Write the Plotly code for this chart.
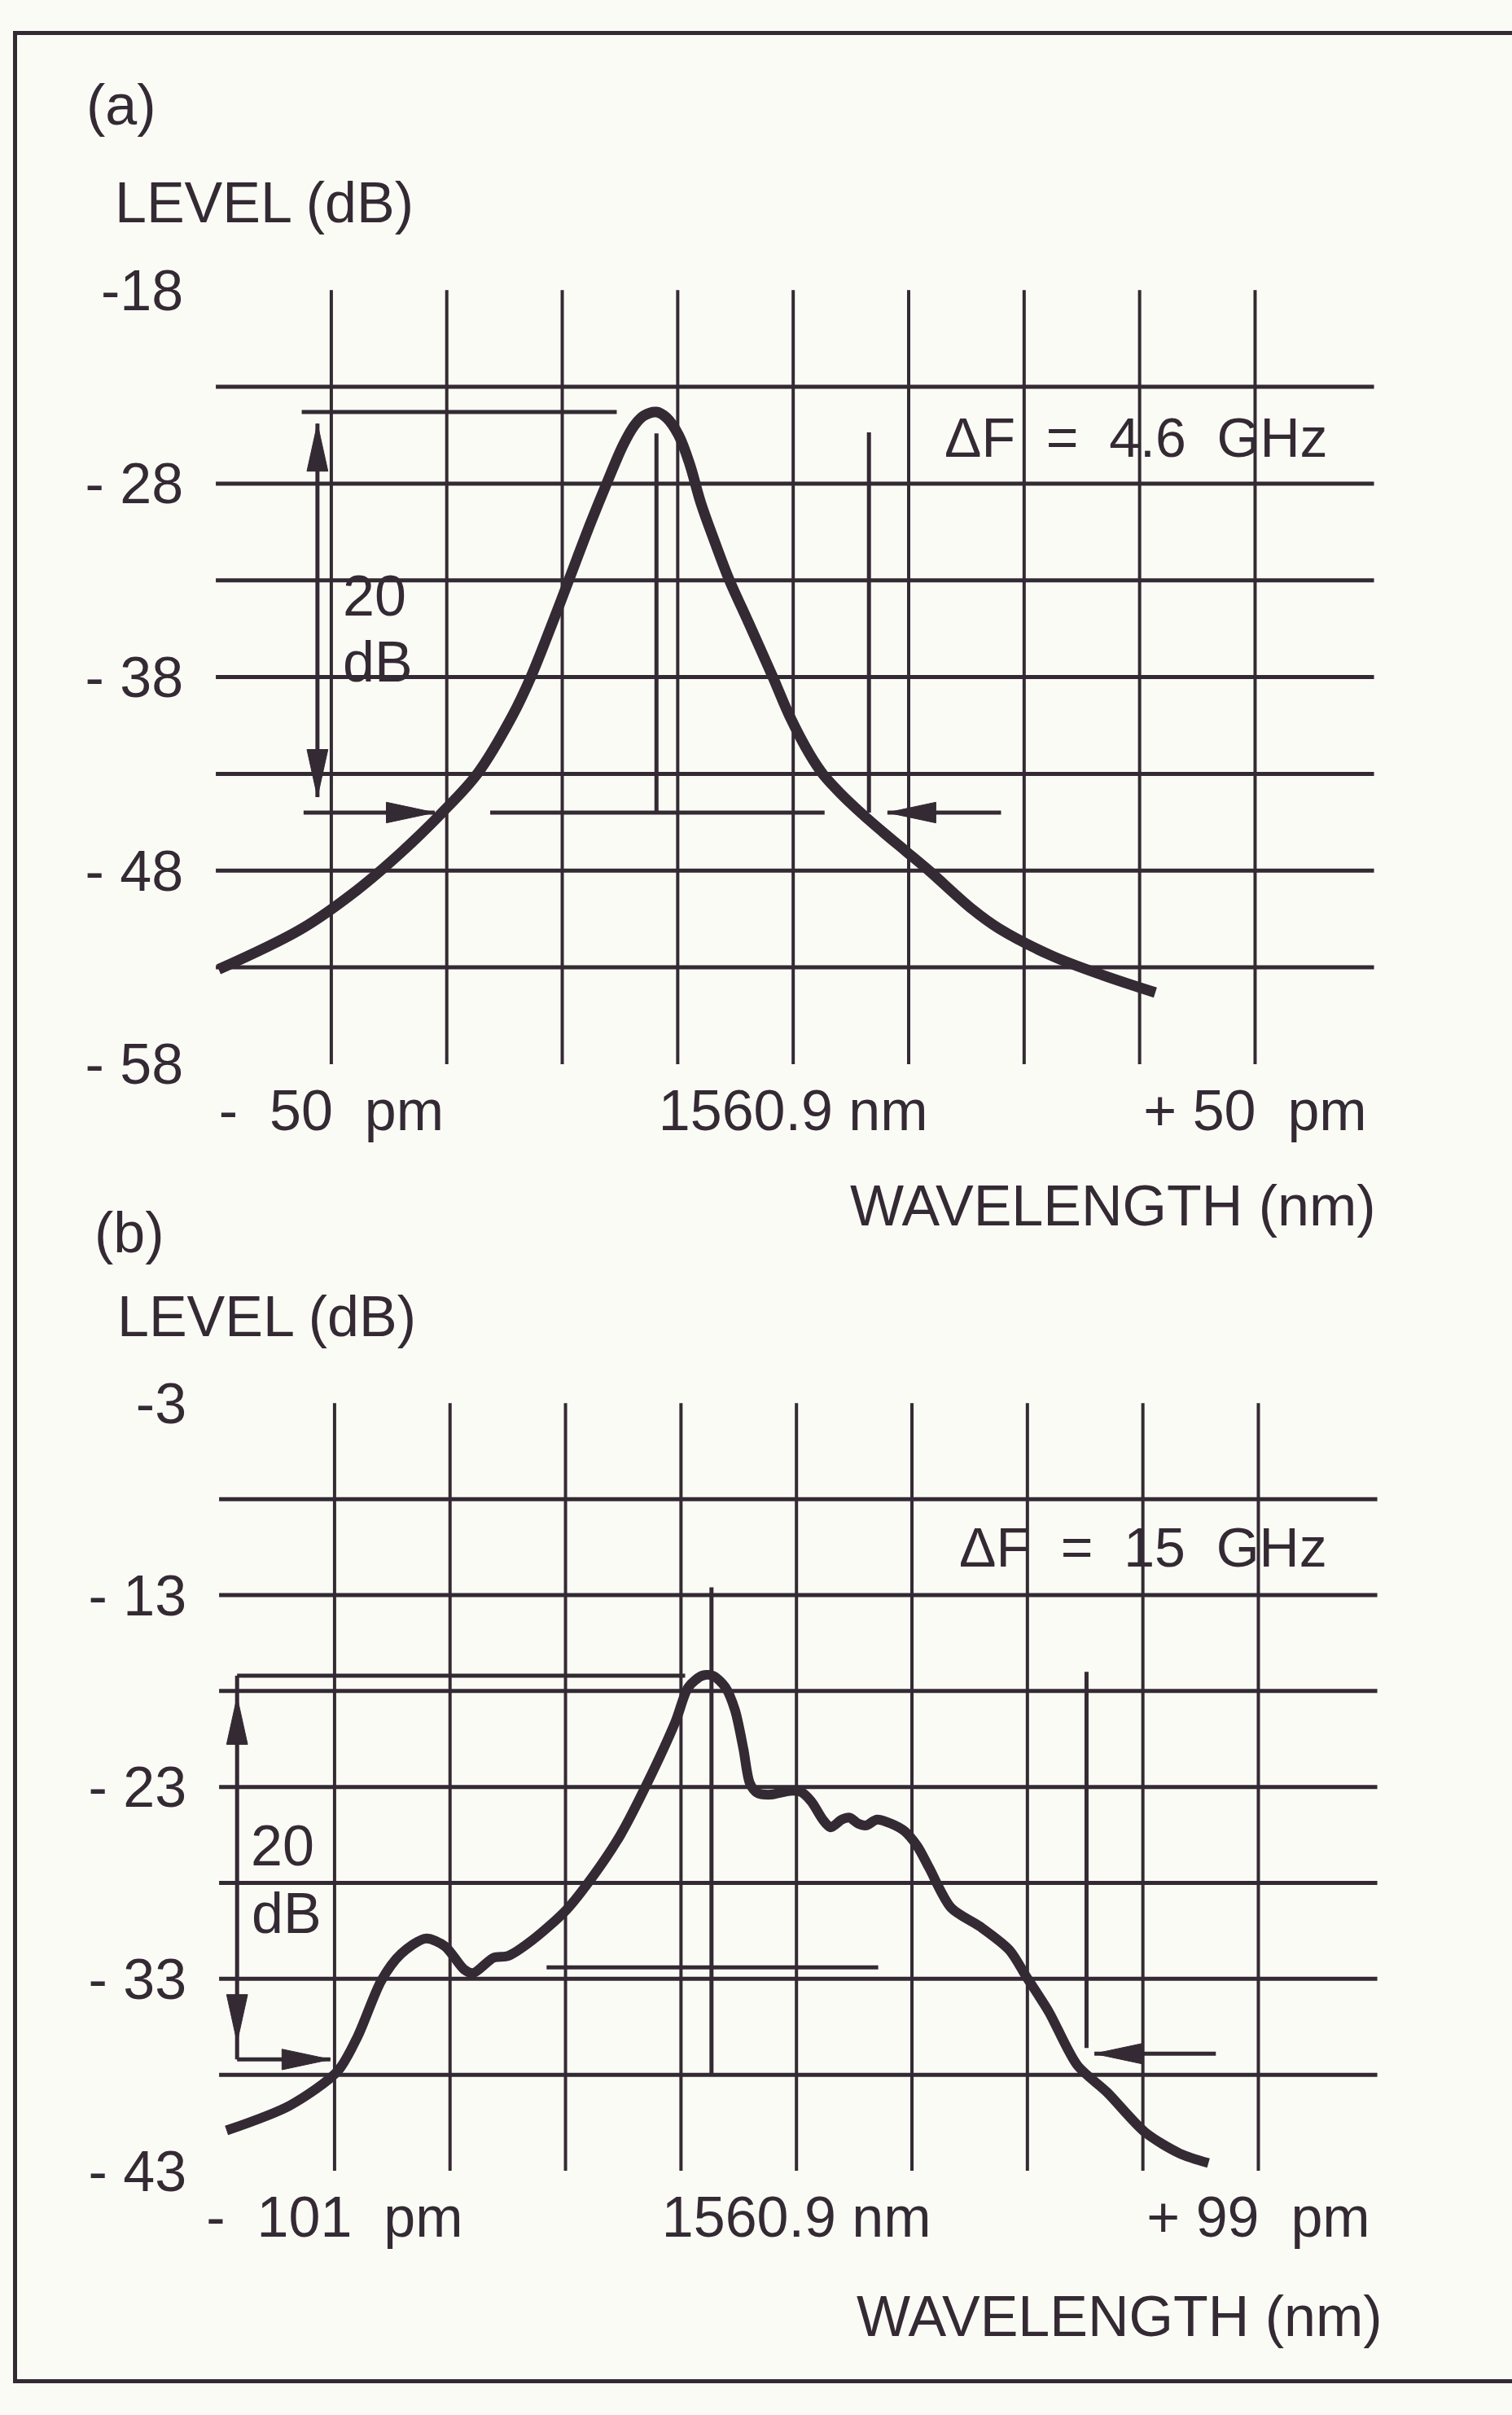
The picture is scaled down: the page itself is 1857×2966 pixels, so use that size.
import plotly.graph_objects as go

W, H = 1857, 2966
INK = "#342a33"
BG = "#fbfbf6"
FONT = "Liberation Sans, Arial, Helvetica, sans-serif"
FS = 70
NB = "\u00a0"

# ---------------- panel (a): 4.6 GHz linewidth ----------------
a_wl = [-62.2, -53.2, -47.2, -42.3, -38.0, -34.2, -30.4, -28.4, -25.9, -24.3, -21.9,
        -20.2, -18.4, -17.2, -16.2, -14.8,
        -13.7, -12.4, -11.2, -10.0, -8.5, -6.9, -5.0, -2.2, -0.4, 1.8, 3.2, 5.1, 7.3,
        9.7, 12.2, 14.7, 19.4, 22.3, 28.0, 33.5, 39.2]
a_lvl = [-53.1, -51.0, -49.0, -47.0, -45.0, -43.0, -40.0, -38.0, -35.0, -33.0, -30.0,
         -28.0, -26.0, -25.0, -24.5, -24.3,
         -24.6, -25.5, -27.0, -29.0, -31.0, -33.0, -35.0, -38.0, -40.0, -42.0, -43.0,
         -44.0, -45.0, -46.0, -47.0, -48.0, -50.0, -51.0, -52.4, -53.4, -54.3]
a_xrange = [-62.5, 62.5]
a_yrange = [-58, -18]
a_xgrid = [-50, -37.5, -25, -12.5, 0, 12.5, 25, 37.5, 50]
a_ygrid = [-23, -28, -33, -38, -43, -48, -53]
a_xticks = [-50, 0, 50]
a_xtext = ["-" + NB + " 50" + NB + " pm", "1560.9 nm", "+ 50" + NB + " pm"]
a_yticks = [-18, -28, -38, -48, -58]
a_ytext = ["-18", "- 28", "- 38", "- 48", "- 58"]
# 20 dB width construction
a_peak_level = -24.3
a_peak_line_x = [-53.2, -19.1]
a_ref_level = -45.0
a_dim_x = -51.5
a_dim_y = [-24.9, -44.2]
a_left_arrow_x = [-53.0, -38.8]
a_mid_line_x = [-32.8, 3.4]
a_center_x = -14.8
a_center_y = [-25.4, -45.0]
a_right_x = 8.2
a_right_y = [-25.35, -45.0]
a_right_arrow_x = [22.5, 10.2]
a_df_text = "\u0394F" + NB + " =" + NB + " 4.6" + NB + " GHz"
a_df_pos = (37.1, -25.6)
a_20_pos = (-45.3, -33.8)
a_db_pos = (-45.0, -37.2)

# ---------------- panel (b): 15 GHz linewidth ----------------
b_wl = [-124.4, -110.7, -100.3, -96.0, -90.9, -86.6, -81.3, -77.1, -73.0, -71.0, -66.6,
        -63.4, -58.3, -50.8, -44.6, -39.1, -33.3, -27.2, -24.4, -21.4, -19.1, -16.4,
        -14.3, -12.5, -11.1, -9.5, -6.7, -2.4, -0.1, 2.2, 4.7, 6.4, 8.8, 10.5, 12.3,
        14.1, 16.4, 19.4, 22.4, 25.2, 27.7, 32.5, 38.9, 45.1, 48.8, 53.6, 59.8, 66.2,
        74.5, 82.0, 88.2]
b_lvl = [-40.9, -39.6, -37.8, -36.0, -33.1, -31.7, -30.9, -31.3, -32.5, -32.7, -31.9,
         -31.8, -31.0, -29.4, -27.5, -25.5, -22.8, -19.6, -17.8, -17.2, -17.2, -17.8,
         -19.0, -21.0, -22.8, -23.3, -23.4, -23.2, -23.25, -23.75, -24.7, -25.1, -24.7,
         -24.6, -24.9, -25.0, -24.7, -24.9, -25.3, -26.1, -27.2, -29.3, -30.3, -31.5,
         -32.9, -34.7, -37.5, -38.9, -41.0, -42.1, -42.6]
b_xrange = [-126, 124]
b_yrange = [-43, -3]
b_xgrid = [-101, -76, -51, -26, -1, 24, 49, 74, 99]
b_ygrid = [-8, -13, -18, -23, -28, -33, -38]
b_xticks = [-101, -1, 99]
b_xtext = ["-" + NB + " 101" + NB + " pm", "1560.9 nm", "+ 99" + NB + " pm"]
b_yticks = [-3, -13, -23, -33, -43]
b_ytext = ["-3", "- 13", "- 23", "- 33", "- 43"]
b_peak_level = -17.2
b_peak_line_x = [-122.1, -25.1]
b_ref_level = -37.2
b_dim_x = -122.1
b_dim_tips = [-18.3, -36.3]
b_left_arrow_x = [-122.1, -101.9]
b_mid_level = -32.4
b_mid_line_x = [-55.1, 16.7]
b_center_x = -19.4
b_center_y = [-12.6, -38.0]
b_right_x = 61.8
b_right_y = [-17.0, -36.6]
b_right_level = -36.9
b_right_arrow_x = [89.8, 63.5]
b_df_text = "\u0394F" + NB + " =" + NB + " 15" + NB + " GHz"
b_df_pos = (74.0, -10.5)
b_20_pos = (-112.3, -26.05)
b_db_pos = (-111.3, -29.6)

# target pixel boxes of the two plotting areas (left, right, top, bottom)
A_BOX = (267.6, 1681.4, 354, 1306)
B_BOX = (271.6, 1685.4, 1723, 2667)

# the photographed page comes out slightly squeezed; place things so they land right
SX, TX, SY, TY = 0.9883, 19.3, 0.9754, 35.3


def cx(x):
    return (x - TX) / SX


def cy(y):
    return (y - TY) / SY


def placed(box):
    l, r, t, b = box
    return cx(l), cx(r), cy(t), cy(b)


def dom(box):
    l, r, t, b = placed(box)
    return [l / W, r / W], [1 - b / H, 1 - t / H]


def scale(box, xr, yr):
    l, r, t, b = placed(box)
    return (r - l) / (xr[1] - xr[0]), (b - t) / (yr[1] - yr[0])


def head(tx, ty, dx, dy, sx, sy, L=60, hw=13):
    bx = tx - L * dx / sx
    by = ty - L * dy / sy
    px_, py_ = -dy, dx
    xs = [bx + hw * px_ / sx, tx, bx - hw * px_ / sx, bx + hw * px_ / sx, None]
    ys = [by + hw * py_ / sy, ty, by - hw * py_ / sy, by + hw * py_ / sy, None]
    return xs, ys


def px(x):
    return cx(x) / W


def py(y):
    return 1 - cy(y) / H


fig = go.Figure()

# ---- curves
fig.add_trace(go.Scatter(x=a_wl, y=a_lvl, mode="lines", xaxis="x", yaxis="y",
                         line=dict(color=INK, width=13, shape="spline", smoothing=1.0),
                         hoverinfo="skip"))
fig.add_trace(go.Scatter(x=b_wl, y=b_lvl, mode="lines", xaxis="x2", yaxis="y2",
                         line=dict(color=INK, width=12, shape="spline", smoothing=0.8),
                         hoverinfo="skip"))

# ---- construction lines (a)
la_x = [a_peak_line_x[0], a_peak_line_x[1], None,
        a_dim_x, a_dim_x, None,
        a_left_arrow_x[0], a_left_arrow_x[1], None,
        a_mid_line_x[0], a_mid_line_x[1], None,
        a_center_x, a_center_x, None,
        a_right_x, a_right_x, None,
        a_right_arrow_x[0], a_right_arrow_x[1]]
la_y = [a_peak_level, a_peak_level, None,
        a_dim_y[0], a_dim_y[1], None,
        a_ref_level, a_ref_level, None,
        a_ref_level, a_ref_level, None,
        a_center_y[0], a_center_y[1], None,
        a_right_y[0], a_right_y[1], None,
        a_ref_level, a_ref_level]
fig.add_trace(go.Scatter(x=la_x, y=la_y, mode="lines", xaxis="x", yaxis="y",
                         line=dict(color=INK, width=5), hoverinfo="skip"))

sxa, sya = scale(A_BOX, a_xrange, a_yrange)
hx, hy = [], []
for (tx, ty, dx, dy) in [(a_dim_x, a_dim_y[0], 0, 1), (a_dim_x, a_dim_y[1], 0, -1),
                         (a_left_arrow_x[1], a_ref_level, 1, 0),
                         (a_right_arrow_x[1], a_ref_level, -1, 0)]:
    xs, ys = head(tx, ty, dx, dy, sxa, sya)
    hx += xs
    hy += ys
fig.add_trace(go.Scatter(x=hx, y=hy, mode="lines", fill="toself", fillcolor=INK,
                         xaxis="x", yaxis="y", line=dict(color=INK, width=1),
                         hoverinfo="skip"))

# ---- construction lines (b)
lb_x = [b_peak_line_x[0], b_peak_line_x[1], None,
        b_dim_x, b_dim_x, None,
        b_left_arrow_x[0], b_left_arrow_x[1], None,
        b_mid_line_x[0], b_mid_line_x[1], None,
        b_center_x, b_center_x, None,
        b_right_x, b_right_x, None,
        b_right_arrow_x[0], b_right_arrow_x[1]]
lb_y = [b_peak_level, b_peak_level, None,
        b_peak_level, b_ref_level, None,
        b_ref_level, b_ref_level, None,
        b_mid_level, b_mid_level, None,
        b_center_y[0], b_center_y[1], None,
        b_right_y[0], b_right_y[1], None,
        b_right_level, b_right_level]
fig.add_trace(go.Scatter(x=lb_x, y=lb_y, mode="lines", xaxis="x2", yaxis="y2",
                         line=dict(color=INK, width=5), hoverinfo="skip"))

sxb, syb = scale(B_BOX, b_xrange, b_yrange)
hx, hy = [], []
for (tx, ty, dx, dy) in [(b_dim_x, b_dim_tips[0], 0, 1), (b_dim_x, b_dim_tips[1], 0, -1),
                         (b_left_arrow_x[1], b_ref_level, 1, 0),
                         (b_right_arrow_x[1], b_right_level, -1, 0)]:
    xs, ys = head(tx, ty, dx, dy, sxb, syb)
    hx += xs
    hy += ys
fig.add_trace(go.Scatter(x=hx, y=hy, mode="lines", fill="toself", fillcolor=INK,
                         xaxis="x2", yaxis="y2", line=dict(color=INK, width=1),
                         hoverinfo="skip"))

# ---- grid lines (interior divisions only) as shapes
shapes = []
for xa, ya, xg, yg in [("x", "y", a_xgrid, a_ygrid), ("x2", "y2", b_xgrid, b_ygrid)]:
    for v in xg:
        shapes.append(dict(type="line", xref=xa, yref=ya + " domain", x0=v, x1=v, y0=0, y1=1,
                           line=dict(color=INK, width=4), layer="below"))
    for v in yg:
        shapes.append(dict(type="line", xref=xa + " domain", yref=ya, x0=0, x1=1.003,
                           y0=v, y1=v, line=dict(color=INK, width=5), layer="below"))
# outer frame of the figure box
shapes.append(dict(type="rect", xref="paper", yref="paper", x0=2.5 / W, x1=1.05,
                   y0=1 - 2963.5 / H, y1=1 - 2.5 / H, line=dict(color=INK, width=5),
                   layer="below"))

# ---- text
tf = dict(family=FONT, size=FS, color=INK)
ann = []


def note(text, x, y, xref, yref, xa="center", ya="middle", size=FS):
    ann.append(dict(text=text, x=x, y=y, xref=xref, yref=yref, xanchor=xa, yanchor=ya,
                    showarrow=False, font=dict(family=FONT, size=size, color=INK)))


note("(a)", px(107), py(126), "paper", "paper", xa="left")
note("LEVEL (dB)", px(142), py(247), "paper", "paper", xa="left")
note("WAVELENGTH (nm)", px(1690), py(1480), "paper", "paper", xa="right")
note(a_df_text, a_df_pos[0], a_df_pos[1], "x", "y", size=68)
note("20", a_20_pos[0], a_20_pos[1], "x", "y")
note("dB", a_db_pos[0], a_db_pos[1], "x", "y")

note("(b)", px(117), py(1513), "paper", "paper", xa="left")
note("LEVEL (dB)", px(145), py(1617), "paper", "paper", xa="left")
note("WAVELENGTH (nm)", px(1698), py(2846), "paper", "paper", xa="right")
note(b_df_text, b_df_pos[0], b_df_pos[1], "x2", "y2", size=68)
note("20", b_20_pos[0], b_20_pos[1], "x2", "y2")
note("dB", b_db_pos[0], b_db_pos[1], "x2", "y2")

xcommon = dict(showgrid=False, zeroline=False, showline=False, ticks="",
               ticklabelstandoff=10, tickfont=tf, fixedrange=True)
ycommon = dict(showgrid=False, zeroline=False, showline=False, ticks="outside",
               tickcolor="rgba(0,0,0,0)", ticklen=25, tickfont=tf, fixedrange=True)
xa_dom, ya_dom = dom(A_BOX)
xb_dom, yb_dom = dom(B_BOX)

fig.update_layout(
    width=W, height=H, margin=dict(l=0, r=0, t=0, b=0, pad=0),
    paper_bgcolor=BG, plot_bgcolor=BG, showlegend=False,
    xaxis=dict(domain=xa_dom, range=a_xrange, anchor="y", tickmode="array",
               tickvals=a_xticks, ticktext=a_xtext, **xcommon),
    yaxis=dict(domain=ya_dom, range=a_yrange, anchor="x", tickmode="array",
               tickvals=a_yticks, ticktext=a_ytext, **ycommon),
    xaxis2=dict(domain=xb_dom, range=b_xrange, anchor="y2", tickmode="array",
                tickvals=b_xticks, ticktext=b_xtext, **xcommon),
    yaxis2=dict(domain=yb_dom, range=b_yrange, anchor="x2", tickmode="array",
                tickvals=b_yticks, ticktext=b_ytext, **ycommon),
    shapes=shapes, annotations=ann,
)

fig.write_html(
    "out.html",
    config={"displayModeBar": False, "responsive": False},
    post_script="document.body.style.margin='0';document.body.style.padding='0';"
                "document.documentElement.style.overflow='hidden';"
                "document.body.style.background='" + BG + "';",
)
